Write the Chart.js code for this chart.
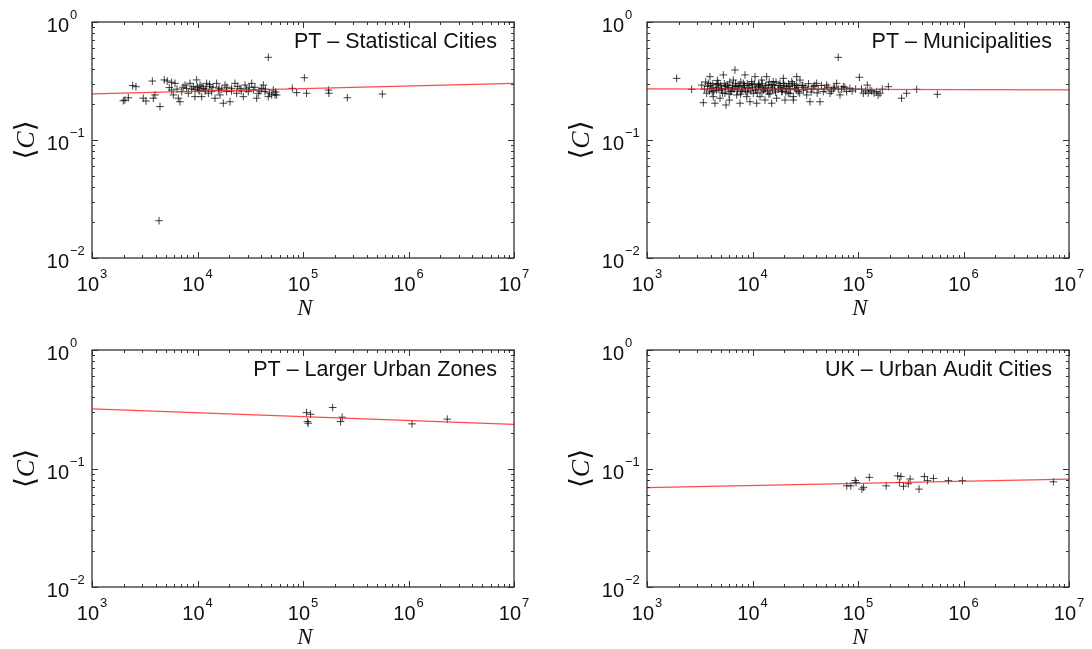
<!DOCTYPE html>
<html>
<head>
<meta charset="utf-8">
<script src="https://cdn.jsdelivr.net/npm/chart.js@4.4.1/dist/chart.umd.min.js"></script>
<style>
  body { margin: 0; background: #fff; }
  #wrap { position: relative; width: 1092px; height: 649px; }
  #wrap canvas { position: absolute; }
</style>
</head>
<body>
<div id="wrap">
  <canvas id="c1" width="546" height="325" style="left:0px;top:0px"></canvas>
  <canvas id="c2" width="546" height="325" style="left:546px;top:0px"></canvas>
  <canvas id="c3" width="546" height="324" style="left:0px;top:325px"></canvas>
  <canvas id="c4" width="546" height="324" style="left:546px;top:325px"></canvas>
</div>
<script>
// decades shown on the axes (labels are 10^k)
const xDecades = [3, 4, 5, 6, 7];
const yDecades = [-2, -1, 0];

// PT - Statistical Cities
const statN = [1980, 2050, 2210, 2430, 2610, 3060, 3250, 3730, 3810, 3950,
  4320, 4410, 4840, 5170, 5400, 5690, 5690, 5900, 6120, 6400,
  6580, 6820, 7080, 7300, 7620, 7890, 8190, 8490, 8800, 9120,
  9460, 9500, 9810, 10000, 10180, 10500, 10570, 10960, 11000, 11360,
  11800, 12000, 12210, 12680, 13000, 13130, 13620, 14000, 14650, 15180,
  15740, 16000, 16330, 17000, 17570, 18230, 18890, 19000, 20320, 21000,
  21080, 22650, 23500, 24000, 25270, 26000, 27190, 28200, 29000, 30330,
  31000, 32630, 33840, 35000, 36390, 37720, 39000, 40540, 42060, 43620,
  44000, 46900, 46900, 48000, 50500, 52290, 54290, 55000, 56300, 79200,
  87100, 103000, 108000, 174000, 176000, 263000, 565000];
const statC = [0.215, 0.218, 0.228, 0.289, 0.283, 0.226, 0.214, 0.316, 0.226, 0.241,
  0.0207, 0.192, 0.323, 0.316, 0.278, 0.308, 0.265, 0.241, 0.302, 0.270,
  0.226, 0.211, 0.257, 0.280, 0.292, 0.274, 0.249, 0.302, 0.270, 0.283,
  0.233, 0.270, 0.323, 0.280, 0.265, 0.260, 0.292, 0.233, 0.285, 0.274,
  0.260, 0.270, 0.302, 0.249, 0.295, 0.283, 0.257, 0.280, 0.226, 0.302,
  0.265, 0.275, 0.241, 0.270, 0.205, 0.292, 0.257, 0.280, 0.211, 0.260,
  0.274, 0.302, 0.249, 0.285, 0.274, 0.260, 0.233, 0.292, 0.270, 0.257,
  0.280, 0.302, 0.265, 0.280, 0.226, 0.249, 0.260, 0.274, 0.292, 0.257,
  0.270, 0.502, 0.233, 0.250, 0.241, 0.265, 0.241, 0.255, 0.241, 0.274,
  0.252, 0.337, 0.249, 0.265, 0.249, 0.228, 0.245];
const statFitN = [1e3, 1e7];
const statFitC = [0.246, 0.302];

// PT - Municipalities
const muniN = [1910, 2650, 3300, 3420, 3500, 3600, 3680, 3810, 3900, 3950,
  4000, 4100, 4200, 4250, 4300, 4410, 4500, 4570, 4650, 4740,
  4800, 4920, 5000, 5100, 5200, 5290, 5400, 5480, 5600, 5610,
  5770, 5900, 6030, 6100, 6210, 6300, 6500, 6580, 6700, 6820,
  6900, 7080, 7200, 7340, 7500, 7620, 7750, 7890, 8000, 8190,
  8300, 8490, 8600, 8810, 8900, 9120, 9300, 9460, 9650, 9810,
  10000, 10180, 10400, 10570, 10800, 10960, 11100, 11360, 11600, 11780,
  12000, 12210, 12400, 12680, 12900, 13130, 13400, 13620, 13900, 14130,
  14400, 14650, 15000, 15190, 15500, 15740, 16100, 16330, 16700, 16940,
  17500, 18230, 18500, 18910, 19200, 19600, 19600, 20000, 20320, 21080,
  21080, 21830, 22000, 22650, 23000, 23550, 24380, 24380, 25000, 25290,
  26240, 26240, 27000, 27180, 28200, 29500, 30330, 31500, 32630, 34000,
  35080, 36500, 37730, 39000, 40570, 42000, 43630, 45000, 46920, 48500,
  50460, 52000, 54260, 56000, 58350, 60000, 62750, 65000, 65000, 67480,
  70000, 72570, 75000, 78040, 83930, 88000, 95000, 103000, 108000, 112400,
  118000, 122500, 125000, 130000, 135000, 142000, 150300, 155000, 161700, 170000,
  194000, 259000, 289000, 360000, 565000,
  3750, 4150, 4600, 5050, 5550, 6000, 6450, 7000, 7700, 8400,
  9000, 9900, 10700, 11400, 12300, 13300, 14300, 15300, 16500, 17800,
  19000, 20700, 22300, 24000, 26000, 28000, 30000, 33000, 36000, 41000];
const muniC = [0.333, 0.269, 0.292, 0.207, 0.270, 0.310, 0.249, 0.302, 0.260, 0.344,
  0.290, 0.274, 0.300, 0.233, 0.260, 0.205, 0.280, 0.265, 0.320, 0.302,
  0.270, 0.226, 0.290, 0.274, 0.250, 0.356, 0.300, 0.249, 0.270, 0.198,
  0.292, 0.280, 0.218, 0.310, 0.257, 0.260, 0.290, 0.322, 0.270, 0.392,
  0.300, 0.241, 0.260, 0.283, 0.290, 0.205, 0.310, 0.257, 0.270, 0.302,
  0.280, 0.356, 0.260, 0.233, 0.300, 0.274, 0.290, 0.211, 0.260, 0.312,
  0.280, 0.249, 0.300, 0.344, 0.270, 0.205, 0.250, 0.283, 0.290, 0.233,
  0.280, 0.322, 0.300, 0.265, 0.270, 0.218, 0.290, 0.344, 0.260, 0.292,
  0.310, 0.249, 0.280, 0.205, 0.270, 0.312, 0.290, 0.265, 0.310, 0.226,
  0.270, 0.302, 0.280, 0.257, 0.260, 0.333, 0.302, 0.290, 0.218, 0.283,
  0.274, 0.249, 0.300, 0.249, 0.270, 0.312, 0.233, 0.218, 0.290, 0.274,
  0.344, 0.292, 0.280, 0.257, 0.322, 0.290, 0.265, 0.280, 0.241, 0.300,
  0.211, 0.270, 0.283, 0.290, 0.302, 0.270, 0.211, 0.290, 0.257, 0.270,
  0.292, 0.280, 0.249, 0.260, 0.274, 0.280, 0.302, 0.502, 0.270, 0.241,
  0.270, 0.283, 0.280, 0.257, 0.274, 0.260, 0.270, 0.340, 0.270, 0.249,
  0.260, 0.292, 0.250, 0.265, 0.260, 0.250, 0.257, 0.240, 0.249, 0.270,
  0.283, 0.226, 0.249, 0.269, 0.244,
  0.285, 0.255, 0.295, 0.265, 0.285, 0.245, 0.275, 0.285, 0.245, 0.290,
  0.255, 0.295, 0.265, 0.295, 0.255, 0.275, 0.245, 0.295, 0.255, 0.290,
  0.270, 0.255, 0.285, 0.300, 0.265, 0.250, 0.290, 0.270, 0.255, 0.250];
const muniFitN = [1e3, 1e7];
const muniFitC = [0.271, 0.266];

// PT - Larger Urban Zones
const luzN = [108000, 118000, 110000, 112000, 191000, 235000, 227000, 1080000, 2330000];
const luzC = [0.296, 0.287, 0.249, 0.241, 0.327, 0.271, 0.249, 0.238, 0.261];
const luzFitN = [1e3, 1e7];
const luzFitC = [0.318, 0.236];

// UK - Urban Audit Cities
const ukN = [78300, 85500, 94000, 96000, 109000, 113000, 128000, 185000, 238000, 247000,
  255000, 270000, 300000, 312000, 379000, 426000, 455000, 519000, 720000, 977000, 7110000];
const ukC = [0.0714, 0.0714, 0.0792, 0.0762, 0.0670, 0.0694, 0.0842, 0.0714, 0.0867, 0.0762,
  0.0855, 0.0708, 0.0743, 0.0815, 0.0670, 0.0855, 0.0790, 0.0825, 0.0790, 0.0790, 0.0772];
const ukFitN = [1e3, 1e7];
const ukFitC = [0.0689, 0.0815];

const SANS = '"Liberation Sans", Arial, sans-serif';

// "10" with a raised exponent, starting at x
function drawPow(ctx, exp, x, base, supBase) {
  const sup = exp < 0 ? '\u2212' + (-exp) : String(exp);
  ctx.font = '20px ' + SANS;
  ctx.fillText('10', x, base);
  const w = ctx.measureText('10').width;
  ctx.font = '13px ' + SANS;
  ctx.fillText(sup, x + w + 1, supBase);
}
function powWidth(ctx, exp) {
  const sup = exp < 0 ? '\u2212' + (-exp) : String(exp);
  ctx.font = '20px ' + SANS;
  const w = ctx.measureText('10').width;
  ctx.font = '13px ' + SANS;
  return w + 1 + ctx.measureText(sup).width;
}

// box, inside ticks on all sides, tick labels, axis titles, panel title
const frame = {
  id: 'frame',
  afterDraw(chart, args, opts) {
    const ctx = chart.ctx, a = chart.chartArea;
    const xs = chart.scales.x, ys = chart.scales.y;
    ctx.save();
    ctx.strokeStyle = '#333';
    ctx.lineWidth = 1;
    ctx.beginPath();
    xDecades.forEach((e, i) => {
      for (let m = 1; m < 10; m++) {
        if (m > 1 && i === xDecades.length - 1) break;
        const px = Math.round(xs.getPixelForValue(m * Math.pow(10, e))) + 0.5;
        const len = m === 1 ? 6 : 3;
        ctx.moveTo(px, a.bottom); ctx.lineTo(px, a.bottom - len);
        ctx.moveTo(px, a.top); ctx.lineTo(px, a.top + len);
      }
    });
    yDecades.forEach((e, i) => {
      for (let m = 1; m < 10; m++) {
        if (m > 1 && i === yDecades.length - 1) break;
        const py = Math.round(ys.getPixelForValue(m * Math.pow(10, e))) + 0.5;
        const len = m === 1 ? 6 : 3;
        ctx.moveTo(a.left, py); ctx.lineTo(a.left + len, py);
        ctx.moveTo(a.right, py); ctx.lineTo(a.right - len, py);
      }
    });
    ctx.stroke();
    ctx.lineWidth = 1.3;
    ctx.strokeRect(a.left, a.top, a.right - a.left, a.bottom - a.top);

    ctx.fillStyle = '#111';
    ctx.textAlign = 'left';
    ctx.textBaseline = 'alphabetic';
    xDecades.forEach(e => {
      const px = xs.getPixelForValue(Math.pow(10, e));
      const w = powWidth(ctx, e);
      drawPow(ctx, e, px - w / 2, a.bottom + 33, a.bottom + 20);
    });
    yDecades.forEach(e => {
      const py = ys.getPixelForValue(Math.pow(10, e));
      ctx.font = '20px ' + SANS;
      const w = ctx.measureText('10').width;
      drawPow(ctx, e, a.left - 23 - w, py + 10, py - 3);
    });

    // N
    ctx.font = 'italic 23px "Liberation Serif", serif';
    ctx.textAlign = 'center';
    ctx.fillText('N', (a.left + a.right) / 2 + 2, a.bottom + 57);

    // <C>
    ctx.save();
    ctx.translate(a.left - 65, (a.top + a.bottom) / 2);
    ctx.rotate(-Math.PI / 2);
    ctx.textBaseline = 'middle';
    ctx.textAlign = 'left';
    const bFont = '28px "DejaVu Sans", sans-serif';
    const cFont = 'italic 26px "Liberation Serif", serif';
    ctx.font = bFont; const wl = ctx.measureText('\u27E8').width;
    ctx.font = cFont; const wc = ctx.measureText('C').width;
    let x0 = -(wl * 2 + wc) / 2;
    ctx.font = bFont; ctx.fillText('\u27E8', x0, 0);
    ctx.font = cFont; ctx.fillText('C', x0 + wl, 0);
    ctx.font = bFont; ctx.fillText('\u27E9', x0 + wl + wc, 0);
    ctx.restore();

    // panel title
    ctx.font = '21.5px ' + SANS;
    ctx.textAlign = 'right';
    ctx.fillText(opts.title, a.right - 17, a.top + 26);
    ctx.restore();
  }
};

function makePanel(id, title, ns, cs, fitN, fitC, pad) {
  const pts = ns.map((n, i) => ({x: n, y: cs[i]}));
  const fit = fitN.map((n, i) => ({x: n, y: fitC[i]}));
  return new Chart(document.getElementById(id), {
    type: 'scatter',
    data: {
      datasets: [{
        type: 'line',
        data: fit,
        borderColor: 'rgba(255,30,30,0.8)',
        borderWidth: 1.3,
        pointRadius: 0,
        order: 0
      }, {
        data: pts,
        pointStyle: 'cross',
        pointRadius: 3.8,
        borderColor: 'rgba(0,0,0,0.75)',
        backgroundColor: 'rgba(0,0,0,0)',
        borderWidth: 1,
        order: 1
      }]
    },
    options: {
      responsive: false,
      animation: false,
      devicePixelRatio: 1,
      events: [],
      layout: { padding: pad },
      plugins: {
        legend: { display: false },
        tooltip: { enabled: false },
        frame: { title: title }
      },
      scales: {
        x: { type: 'logarithmic', min: 1e3, max: 1e7, display: false },
        y: { type: 'logarithmic', min: 1e-2, max: 1, display: false }
      }
    },
    plugins: [frame]
  });
}

makePanel('c1', 'PT \u2013 Statistical Cities', statN, statC, statFitN, statFitC,
  {left: 92, right: 32, top: 22, bottom: 67});
makePanel('c2', 'PT \u2013 Municipalities', muniN, muniC, muniFitN, muniFitC,
  {left: 101, right: 23, top: 22, bottom: 67});
makePanel('c3', 'PT \u2013 Larger Urban Zones', luzN, luzC, luzFitN, luzFitC,
  {left: 92, right: 32, top: 25, bottom: 62});
makePanel('c4', 'UK \u2013 Urban Audit Cities', ukN, ukC, ukFitN, ukFitC,
  {left: 101, right: 23, top: 25, bottom: 62});
</script>
</body>
</html>
